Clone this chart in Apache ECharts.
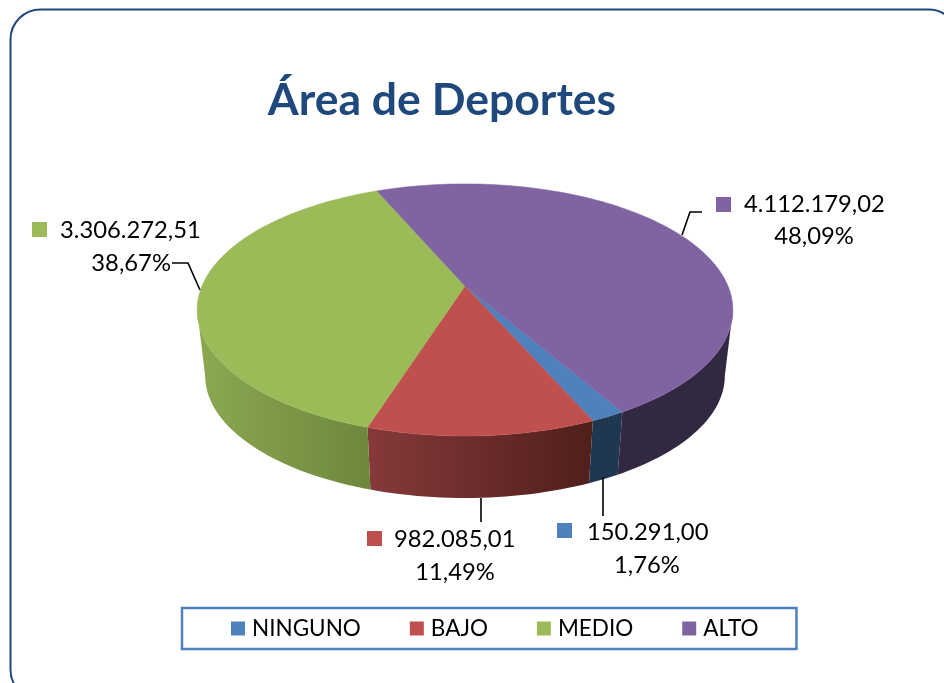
<!DOCTYPE html>
<html><head><meta charset="utf-8">
<style>html,body{margin:0;padding:0;background:#fff}#c{width:944px;height:683px}</style>
<script src="https://cdn.jsdelivr.net/npm/echarts@6/dist/echarts.min.js"></script>
</head><body><div id="c"></div>
<script>
const titleText = 'Área de Deportes';
const categories = ['NINGUNO', 'BAJO', 'MEDIO', 'ALTO'];
const values = [150291.00, 982085.01, 3306272.51, 4112179.02];
const topColors = ['#4f81bd', '#c0504d', '#9bbb59', '#8064a2'];
const sideFrom = ['#1f3750', '#86393a', '#8ba851', '#332841'];
const sideTo = ['#1f3750', '#4f1f1c', '#6d883c', '#332841'];

// label placement per category: swatch, value line, percent line, leader polyline
const labelLayout = [
  {sw:[557,523], val:[587,532,'left'], pct:[647,565,'center'], lead:[[603,477],[603,516]]},
  {sw:[367,531], val:[394,539,'left'], pct:[455,572,'center'], lead:[[481,498],[481,522]]},
  {sw:[32,222],  val:[60,230,'left'],  pct:[171,263,'right'],  lead:[[172,263],[188,263],[200,290]]},
  {sw:[716,197], val:[744,204,'left'], pct:[814,236,'center'], lead:[[702,212],[690,212],[682,235]]}
];

const FONT = 'Lato';
const total = values.reduce((a,b)=>a+b,0);
const startDeg = 150;

// Perspective projection of the pie's circular top and bottom faces.
const view = {cx:465, apexY:286, a:263, b:121.5, k:0.19, drop:66.5, shrink:0.97};
// Angles at which the outline of the cylinder leaves the top face (visible side lies between them)
const silhouette = Math.acos(-view.k)*180/Math.PI;
function rim(deg, lower){
  const t = deg*Math.PI/180, x = Math.sin(t), y = -Math.cos(t), w = 1 - view.k*y;
  const s = lower ? view.shrink : 1, d = lower ? view.drop : 0;
  return [view.cx + s*view.a*x/w, view.apexY + d + s*view.b*y/w];
}
function arc(from, to, lower){
  const n = Math.max(2, Math.ceil((to-from)/1.5)), pts = [];
  for(let i=0;i<=n;i++) pts.push(rim(from+(to-from)*i/n, lower));
  return pts;
}
function fmtNum(v){
  const p = v.toFixed(2).split('.');
  return p[0].replace(/\B(?=(\d{3})+(?!\d))/g,'.') + ',' + p[1];
}
function fmtPct(v){ return (v/total*100).toFixed(2).replace('.',',') + '%'; }

function makeItem(idx){
  return function(params, api){
    const value = api.value(0);
    let start = startDeg;
    for(let i=0;i<idx;i++) start += values[i]/total*360;
    const end = start + value/total*360;
    const children = [];
    const topArc = arc(start,end,false);
    // visible front wall: the part of the slice inside the front half of the rim
    for(const shift of [0,360]){
      const a0 = Math.max(start, silhouette+shift), a1 = Math.min(end, 360-silhouette+shift);
      if(a1 <= a0) continue;
      const upper = arc(a0,a1,false), lower = arc(a0,a1,true);
      children.push({type:'polygon', z2:1,
        shape:{points: upper.concat(lower.slice().reverse())},
        style:{fill:new echarts.graphic.LinearGradient(
          Math.min(...upper.map(p=>p[0])),0,Math.max(...upper.map(p=>p[0])),0,
          [{offset:0,color:sideFrom[idx]},{offset:1,color:sideTo[idx]}],true)}});
    }
    children.push({type:'polygon', z2:5,
      shape:{points:[[view.cx,view.apexY]].concat(topArc)},
      style:{fill:topColors[idx], stroke:topColors[idx], lineWidth:0.5}});
    const L = labelLayout[idx];
    children.push({type:'polyline', z2:6, shape:{points:L.lead},
      style:{fill:null, stroke:'#000', lineWidth:1.6}});
    children.push({type:'rect', z2:7, shape:{x:L.sw[0],y:L.sw[1],width:15,height:15},
      style:{fill:topColors[idx]}});
    const ts = {font:'23.8px '+FONT, fill:'#000', verticalAlign:'middle'};
    children.push({type:'text', z2:7, style:Object.assign({},ts,
      {x:L.val[0],y:L.val[1],align:L.val[2],text:fmtNum(value)})});
    children.push({type:'text', z2:7, style:Object.assign({},ts,
      {x:L.pct[0],y:L.pct[1],align:L.pct[2],text:fmtPct(value)})});
    return {type:'group', children};
  };
}

const chart = echarts.init(document.getElementById('c'), null, {renderer:'canvas'});
chart.setOption({
  animation:false,
  backgroundColor:'#fff',
  title:{text:titleText, left:437, textAlign:'center', top:73,
    textStyle:{fontFamily:FONT, fontWeight:'bold', fontSize:44.5, color:'#1f497d'}},
  legend:{
    data:categories, left:182, top:608, orient:'horizontal',
    padding:[9,38,9,49], itemGap:49, itemWidth:14, itemHeight:14, icon:'rect',
    borderColor:'#4f81bd', borderWidth:2.5, backgroundColor:'#fff',
    textStyle:{fontFamily:FONT, fontSize:22.5, color:'#000', padding:[0,0,0,2]}
  },
  graphic:[{type:'rect', z:0, silent:true,
    shape:{x:10.5,y:9.5,width:948,height:690,r:30},
    style:{fill:'#fff', stroke:'#1f497d', lineWidth:2}}],
  series: categories.map((name,i)=>({
    type:'custom', name, coordinateSystem:'none', z:3,
    itemStyle:{color:topColors[i]},
    renderItem:makeItem(i), data:[[values[i]]], silent:true
  }))
});
</script></body></html>
